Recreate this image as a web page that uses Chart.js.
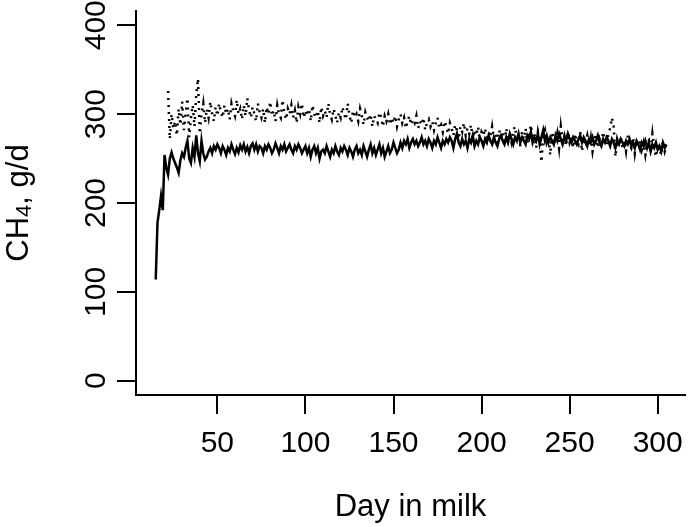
<!DOCTYPE html>
<html>
<head>
<meta charset="utf-8">
<style>
  html, body { margin: 0; padding: 0; background: #fff; }
  canvas { display: block; }
</style>
<script src="https://cdn.jsdelivr.net/npm/chart.js@4.4.1/dist/chart.umd.min.js"></script>
</head>
<body>
<canvas id="ch4" width="690" height="527"></canvas>
<script>
// primer dia de cada serie (dias en leche)
const solidStart = 15;
const dottedStart = 22;

// CH4, g/d - linea continua (dia 15 a 305)
const solidValues = [
  114, 178, 192, 208, 192, 254, 240,
  232, 250, 257, 250, 245, 240, 234, 248, 256,
  252, 262, 270, 250, 245, 262, 252, 276, 256, 247,
  270, 256, 249, 252, 258, 262, 256, 264, 260, 266,
  262, 256, 264, 260, 254, 262, 258, 266, 260, 255,
  262, 257, 265, 260, 266, 258, 263, 256, 264, 267,
  260, 266, 258, 264, 262, 256, 264, 260, 266, 262,
  256, 260, 267, 262, 256, 264, 260, 266, 258, 262,
  266, 260, 256, 264, 260, 266, 262, 256, 260, 264,
  256, 262, 252, 260, 264, 256, 262, 250, 258, 260,
  256, 264, 258, 252, 260, 256, 264, 258, 254, 262,
  258, 264, 260, 254, 262, 258, 252, 260, 264, 256,
  260, 254, 264, 258, 252, 260, 266, 256, 262, 254,
  260, 266, 256, 262, 252, 258, 264, 256, 260, 268,
  262, 256, 260, 268, 262, 270, 266, 272, 262, 268,
  272, 266, 270, 264, 268, 274, 266, 270, 264, 272,
  268, 262, 270, 266, 274, 268, 262, 270, 266, 272,
  268, 274, 270, 262, 272, 278, 268, 264, 272, 266,
  270, 262, 272, 268, 276, 264, 270, 266, 274, 270,
  264, 272, 268, 276, 270, 266, 274, 268, 264, 272,
  276, 270, 266, 274, 268, 278, 272, 266, 274, 270,
  278, 268, 274, 270, 266, 276, 272, 280, 268, 274,
  270, 278, 266, 274, 282, 270, 276, 268, 274, 270,
  266, 276, 270, 278, 272, 266, 274, 270, 278, 272,
  268, 274, 270, 266, 272, 276, 268, 274, 270, 264,
  272, 268, 274, 266, 270, 276, 268, 264, 272, 268,
  274, 270, 264, 272, 268, 262, 270, 266, 272, 268,
  264, 270, 266, 272, 264, 268, 262, 270, 266, 260,
  268, 264, 270, 262, 268, 258, 266, 262, 268, 260,
  264, 258, 268, 262, 266
];

// CH4, g/d - linea punteada (dia 22 a 305)
const dottedValues = [
  326, 272, 300, 284, 292, 276, 306, 288, 314,
  282, 300, 318, 274, 296, 310, 286, 322, 340, 278,
  300, 312, 290, 306, 296, 314, 300, 292, 308, 298,
  312, 302, 296, 310, 300, 306, 294, 312, 304, 298,
  316, 300, 306, 294, 310, 298, 318, 304, 296, 308,
  300, 292, 312, 302, 296, 306, 290, 308, 300, 314,
  298, 304, 292, 310, 300, 296, 316, 302, 294, 306,
  300, 310, 296, 304, 290, 308, 300, 312, 296, 304,
  298, 306, 292, 310, 300, 296, 304, 290, 308, 298,
  304, 296, 312, 300, 294, 306, 298, 290, 302, 296,
  308, 300, 294, 312, 298, 290, 304, 296, 300, 292,
  306, 298, 288, 302, 296, 292, 300, 286, 298, 294,
  290, 302, 296, 286, 298, 292, 300, 288, 296, 290,
  298, 286, 294, 300, 290, 296, 284, 292, 298, 288,
  294, 290, 298, 284, 292, 288, 296, 282, 290, 294,
  286, 292, 282, 290, 296, 284, 288, 280, 292, 286,
  278, 290, 284, 276, 288, 282, 272, 286, 280, 290,
  276, 284, 278, 288, 272, 282, 276, 286, 270, 280,
  276, 284, 270, 280, 274, 286, 272, 278, 268, 282,
  274, 280, 266, 284, 272, 276, 268, 282, 286, 270,
  278, 264, 280, 272, 284, 268, 276, 288, 270, 278,
  262, 280, 270, 246, 276, 282, 268, 274, 254, 280,
  272, 266, 278, 262, 286, 270, 276, 264, 280, 268,
  274, 262, 278, 270, 266, 280, 258, 272, 268, 276,
  264, 274, 258, 270, 278, 262, 272, 266, 280, 270,
  264, 278, 284, 296, 286, 252, 272, 266, 274, 262,
  270, 258, 276, 266, 262, 274, 256, 270, 264, 272,
  260, 268, 254, 266, 270, 258, 278, 262, 252, 268,
  262, 254, 270, 258, 264
];

const xTicks = [50, 100, 150, 200, 250, 300];
const yTicks = [0, 100, 200, 300, 400];

const font = '"Liberation Sans", Arial, sans-serif';

function toPoints(start, values) {
    return values.map((v, i) => ({ x: start + i, y: v }));
}

// etiquetas estilo R: numeros del eje y girados
const axisText = {
    id: 'axisText',
    afterDraw(chart) {
        const ctx = chart.ctx;
        const x = chart.scales.x;
        const y = chart.scales.y;
        ctx.save();
        ctx.fillStyle = '#000';
        ctx.font = '30px ' + font;
        ctx.textAlign = 'center';
        ctx.textBaseline = 'middle';
        xTicks.forEach(t => ctx.fillText(String(t), x.getPixelForValue(t), 444));
        ctx.font = '31px ' + font;
        ctx.fillText('Day in milk', (chart.chartArea.left + chart.chartArea.right) / 2, 507);

        ctx.font = '30px ' + font;
        yTicks.forEach(t => {
            ctx.save();
            ctx.translate(97, y.getPixelForValue(t));
            ctx.rotate(-Math.PI / 2);
            ctx.fillText(String(t), 0, 0);
            ctx.restore();
        });

        // titulo del eje y con subindice
        const cy = (chart.chartArea.top + chart.chartArea.bottom) / 2;
        ctx.save();
        ctx.translate(19, cy);
        ctx.rotate(-Math.PI / 2);
        ctx.textAlign = 'left';
        const big = '31px ' + font;
        const small = '22px ' + font;
        ctx.font = big;
        const w1 = ctx.measureText('CH').width;
        const w3 = ctx.measureText(', g/d').width;
        ctx.font = small;
        const w2 = ctx.measureText('4').width;
        let pos = -(w1 + w2 + w3) / 2;
        ctx.font = big;
        ctx.fillText('CH', pos, 0);
        pos += w1;
        ctx.font = small;
        ctx.fillText('4', pos, 6);
        pos += w2;
        ctx.font = big;
        ctx.fillText(', g/d', pos, 0);
        ctx.restore();
        ctx.restore();
    }
};

new Chart(document.getElementById('ch4'), {
    type: 'line',
    data: {
        datasets: [{
            label: 'solid',
            data: toPoints(solidStart, solidValues),
            borderColor: '#000',
            borderWidth: 2.5,
            pointRadius: 0,
            tension: 0
        }, {
            label: 'dotted',
            data: toPoints(dottedStart, dottedValues),
            borderColor: '#000',
            borderWidth: 2.5,
            borderDash: [2, 5],
            pointRadius: 0,
            tension: 0
        }]
    },
    options: {
        responsive: false,
        animation: false,
        devicePixelRatio: 1,
        layout: { padding: { top: 11, right: 5, left: 0, bottom: 0 } },
        plugins: {
            legend: { display: false },
            tooltip: { enabled: false }
        },
        scales: {
            x: {
                type: 'linear',
                min: 3.8,
                max: 315.5,
                afterBuildTicks: s => { s.ticks = xTicks.map(v => ({ value: v })); },
                afterFit: s => { s.height = 132; },
                ticks: { display: false },
                grid: { drawOnChartArea: false, drawTicks: true, tickLength: 19, color: '#000', lineWidth: 2 },
                border: { display: true, color: '#000', width: 2 }
            },
            y: {
                min: -16,
                max: 416,
                afterBuildTicks: s => { s.ticks = yTicks.map(v => ({ value: v })); },
                afterFit: s => { s.width = 136; },
                ticks: { display: false },
                grid: { drawOnChartArea: false, drawTicks: true, tickLength: 19, color: '#000', lineWidth: 2 },
                border: { display: true, color: '#000', width: 2 }
            }
        }
    },
    plugins: [axisText]
});
</script>
</body>
</html>
